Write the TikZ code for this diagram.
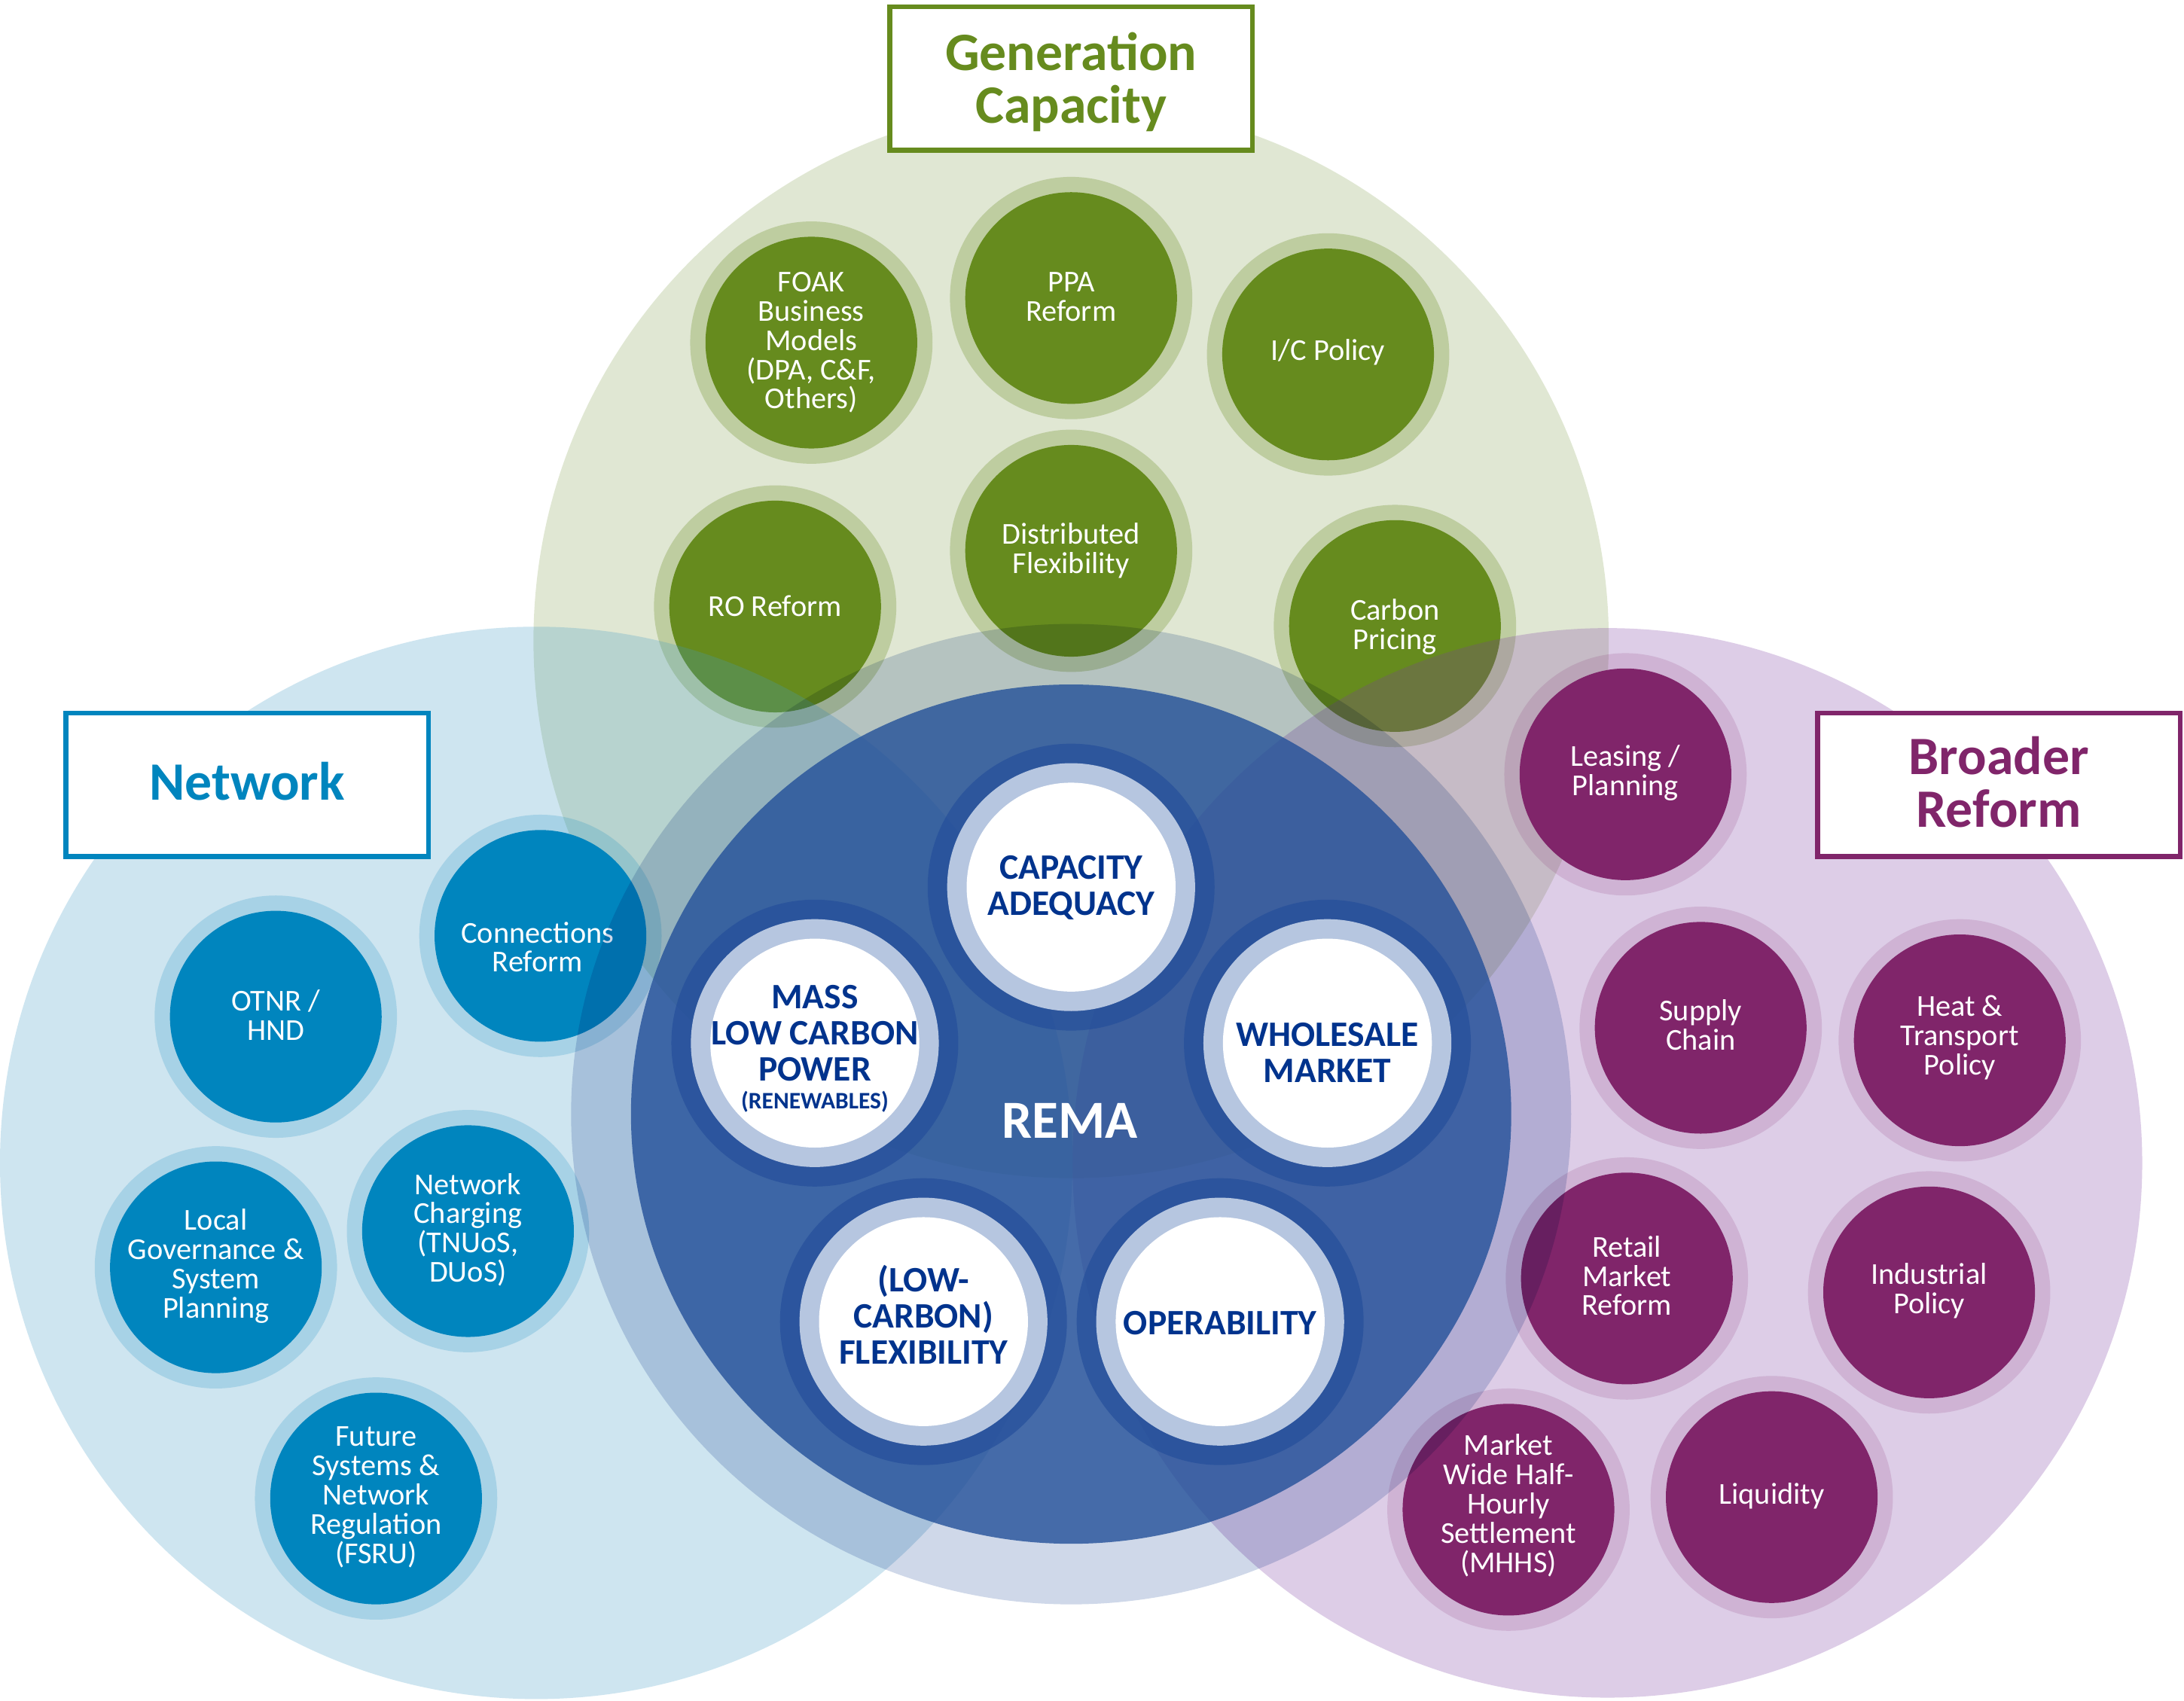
\documentclass[tikz,border=0pt]{standalone}
\usepackage{fontspec}
\usetikzlibrary{shapes.geometric}
\setmainfont{Carlito}
\definecolor{gBig}{RGB}{135,163,83}
\definecolor{bBig}{RGB}{63,155,199}
\definecolor{pBig}{RGB}{123,59,163}
\definecolor{gSat}{RGB}{102,139,30}
\definecolor{bSat}{RGB}{0,133,190}
\definecolor{pSat}{RGB}{128,37,106}
\definecolor{remaRing}{RGB}{207,216,233}
\definecolor{remaIn}{RGB}{35,80,153}
\definecolor{coreDark}{RGB}{37,79,155}
\definecolor{coreLight}{RGB}{182,198,224}
\definecolor{coreText}{RGB}{0,51,141}
\newcommand\mySat{\fontsize{21.8}{21}\selectfont}
\newcommand\myCore{\fontsize{25.7}{26}\selectfont\bfseries}
\newcommand\myHead{\fontsize{38.8}{38}\selectfont\bfseries}
\tikzset{
  bigc/.style={circle, inner sep=0pt, fill opacity=0.25},
  gring/.style={circle, inner sep=0pt, minimum size=174pt, fill=gSat, fill opacity=0.28},
  bring/.style={circle, inner sep=0pt, minimum size=174pt, fill=bSat, fill opacity=0.19},
  pring/.style={circle, inner sep=0pt, minimum size=174pt, fill=pSat, fill opacity=0.15},
  gsatin/.style={circle, inner sep=0pt, minimum size=152pt, fill=gSat},
  bsatin/.style={circle, inner sep=0pt, minimum size=152pt, fill=bSat},
  psatin/.style={circle, inner sep=0pt, minimum size=152pt, fill=pSat},
  sattext/.style={text=white, font=\mySat, align=center, inner sep=0pt},
  coredark/.style={circle, inner sep=0pt, minimum size=206pt, fill=coreDark, fill opacity=0.7},
  corelight/.style={circle, inner sep=0pt, minimum size=178pt, fill=coreLight},
  corewhite/.style={circle, inner sep=0pt, minimum size=150pt, fill=white},
  coretext/.style={text=coreText, font=\myCore, align=center, inner sep=0pt},
  headbox/.style={draw=#1, line width=3.6pt, fill=white, minimum width=260.4pt, minimum height=102.9pt, inner sep=0pt},
  headtext/.style={text=#1, font=\myHead, align=center, inner sep=0pt},
}
\begin{document}
\begin{tikzpicture}[x=1pt,y=-1pt]
\useasboundingbox (0,0) rectangle (1568,1221);
\fill[white] (0,0) rectangle (1568,1221);

% ---- Generation big circle
\node[bigc, minimum size=772pt, fill=gBig] (gen) at (769,460) {};

% ---- green satellites
\node[gring] (foakR) at (582.5,246) {};
\node[gsatin] (foak) at (582.5,246) {};
\node[sattext] (foakT) at (582.5,246) {FOAK\\Business\\Models\\(DPA, C\&F,\\Others)};
\node[gring] (ppaR) at (769,214) {};
\node[gsatin] (ppa) at (769,214) {};
\node[sattext] (ppaT) at (769,213) {PPA\\Reform};
\node[gring] (icR) at (953.5,254.5) {};
\node[gsatin] (ic) at (953.5,254.5) {};
\node[sattext] (icT) at (953.5,253) {I/C Policy};
\node[gring] (roR) at (556.5,435.5) {};
\node[gsatin] (ro) at (556.5,435.5) {};
\node[sattext] (roT) at (556.5,435) {RO Reform};
\node[gring] (distR) at (769,395.5) {};
\node[gsatin] (dist) at (769,395.5) {};
\node[sattext] (distT) at (769,395.5) {Distributed\\Flexibility};
\node[gring] (carbR) at (1001.5,449.5) {};
\node[gsatin] (carb) at (1001.5,449.5) {};
\node[sattext] (carbT) at (1001.5,450) {Carbon\\Pricing};

% ---- Network and Broader Reform big circles
\node[bigc, minimum size=770pt, fill=bBig] (net) at (385,835) {};
\node[bigc, minimum size=768pt, fill=pBig] (bro) at (1154,835) {};

% ---- blue satellites
\node[bring] (connR) at (388,672) {};
\node[bsatin] (conn) at (388,672) {};
\node[sattext] (connT) at (386,680) {Connections\\Reform};
\node[bring] (otnrR) at (198,730) {};
\node[bsatin] (otnr) at (198,730) {};
\node[sattext] (otnrT) at (198,729) {OTNR /\\HND};
\node[bring] (localR) at (155,910) {};
\node[bsatin] (local) at (155,910) {};
\node[sattext] (localT) at (155,909) {Local\\Governance \&\\System\\Planning};
\node[bring] (chargeR) at (336,884) {};
\node[bsatin] (charge) at (336,884) {};
\node[sattext] (chargeT) at (336,883) {Network\\Charging\\(TNUoS,\\DUoS)};
\node[bring] (futR) at (270,1076) {};
\node[bsatin] (fut) at (270,1076) {};
\node[sattext] (futT) at (270,1075) {Future\\Systems \&\\Network\\Regulation\\(FSRU)};

% ---- purple satellites
\node[pring] (leasR) at (1167,556) {};
\node[psatin] (leas) at (1167,556) {};
\node[sattext] (leasT) at (1167,555) {Leasing /\\Planning};
\node[pring] (supR) at (1221,738) {};
\node[psatin] (sup) at (1221,738) {};
\node[sattext] (supT) at (1221,736) {Supply\\Chain};
\node[pring] (heatR) at (1407,747) {};
\node[psatin] (heat) at (1407,747) {};
\node[sattext] (heatT) at (1407,745) {Heat \&\\Transport\\Policy};
\node[pring] (retR) at (1168,918) {};
\node[psatin] (ret) at (1168,918) {};
\node[sattext] (retT) at (1168,916) {Retail\\Market\\Reform};
\node[pring] (indR) at (1385,928) {};
\node[psatin] (ind) at (1385,928) {};
\node[sattext] (indT) at (1385,927) {Industrial\\Policy};
\node[pring] (mhhsR) at (1083,1084) {};
\node[psatin] (mhhs) at (1083,1084) {};
\node[sattext] (mhhsT) at (1083,1081) {Market\\Wide Half-\\Hourly\\Settlement\\(MHHS)};
\node[pring] (liqR) at (1272,1075) {};
\node[psatin] (liq) at (1272,1075) {};
\node[sattext] (liqT) at (1272,1074) {Liquidity};

% ---- REMA
\begin{scope}[blend mode=multiply]
\node[ellipse, inner sep=0pt, minimum width=718pt, minimum height=704pt, fill=remaRing] (remaOut) at (769,800) {};
\end{scope}
\node[ellipse, inner sep=0pt, minimum width=632pt, minimum height=617pt, fill=remaIn, fill opacity=0.8] (remaIn) at (769,800) {};
\node[text=white, font=\fontsize{38.5}{38.5}\selectfont\bfseries, inner sep=0pt] (remaT) at (768,805) {REMA};

% ---- core circles
\node[coredark] (capD) at (769,637) {};
\node[corelight] (capL) at (769,637) {};
\node[corewhite] (cap) at (769,637) {};
\node[coretext] (capT) at (769,637.5) {CAPACITY\\ADEQUACY};

\node[coredark] (massD) at (585,749) {};
\node[corelight] (massL) at (585,749) {};
\node[corewhite] (mass) at (585,749) {};
\node[coretext] (massT) at (585,753) {MASS\\LOW CARBON\\POWER\\[-6pt]{\fontsize{17}{20}\selectfont (RENEWABLES)}};

\node[coredark] (wholeD) at (953,749) {};
\node[corelight] (wholeL) at (953,749) {};
\node[corewhite] (whole) at (953,749) {};
\node[coretext] (wholeT) at (953,756) {WHOLESALE\\MARKET};

\node[coredark] (flexD) at (663,949) {};
\node[corelight] (flexL) at (663,949) {};
\node[corewhite] (flex) at (663,949) {};
\node[coretext] (flexT) at (663,944) {(LOW-\\CARBON)\\FLEXIBILITY};

\node[coredark] (operD) at (876,949) {};
\node[corelight] (operL) at (876,949) {};
\node[corewhite] (oper) at (876,949) {};
\node[coretext] (operT) at (876,950) {OPERABILITY};

% ---- header boxes
\node[headbox=gSat] (genBox) at (769,56.4) {};
\node[headtext=gSat] (genT) at (769,59) {Generation\\Capacity};
\node[headbox=bSat] (netBox) at (177.5,563.5) {};
\node[headtext=bSat] (netT) at (177.5,561) {Network};
\node[headbox=pSat] (broBox) at (1435,563.5) {};
\node[headtext=pSat] (broT) at (1435,561.5) {Broader\\Reform};
\end{tikzpicture}
\end{document}
